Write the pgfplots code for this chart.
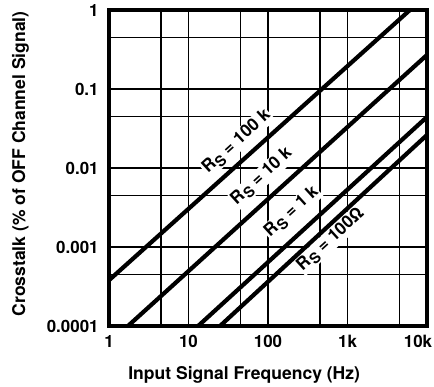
\documentclass[border=0pt]{standalone}
\usepackage{fontspec}
\setmainfont{TeX Gyre Heros}
\usepackage{pgfplots}
\pgfplotsset{compat=1.18}
\usetikzlibrary{calc}

% R with subscript S, as in the curve labels
\newcommand{\Rs}{R\hspace{0.4pt}\raisebox{-0.45ex}{\fontsize{7.4}{8}\selectfont\bfseries S}}
\tikzset{rslabel/.style={rotate=42.4, fill=white, inner sep=0.5bp,
  font=\bfseries\fontsize{8.6}{10}\selectfont}}

\begin{document}
\begin{tikzpicture}
\begin{axis}[
  name=ax,
  xmode=log, ymode=log,
  scale only axis,
  width=159bp, height=158bp,
  xmin=1, xmax=10000,
  ymin=0.0001, ymax=1,
  xtick={1,10,100,1000,10000},
  xticklabels={1,10,100,1k,{10k\hspace*{9bp}}},
  ytick={0.0001,0.001,0.01,0.1,1},
  yticklabels={0.0001,0.001,0.01,0.1,1},
  minor xtick={4.5,45,450,4500},
  minor ytick={0.00045,0.0045,0.045,0.45},
  grid=both,
  major grid style={black, line width=0.7bp},
  minor grid style={black, line width=0.7bp},
  major tick length=0pt, minor tick length=0pt,
  axis line style={black, line width=1.6bp},
  tick label style={font=\bfseries\fontsize{8.5}{10}\selectfont, inner sep=0pt},
  xticklabel style={yshift=-4.5bp},
  yticklabel style={xshift=-5bp},
  xlabel={Input Signal Frequency (Hz)},
  ylabel={Crosstalk (\% of OFF Channel Signal)},
  label style={font=\bfseries\fontsize{8.8}{10}\selectfont, inner sep=0pt},
  xlabel style={at={(axis description cs:0.425,-0.127)}, anchor=north},
  ylabel style={at={(axis description cs:-0.278,0.513)}, anchor=center},
]
% curve labels first, so the lines are drawn over their white boxes
\node[rslabel] at (axis cs:40.7,0.0213) {\Rs\ = 100 k};
\node[rslabel] at (axis cs:84,0.00769) {\Rs\ = 10 k};
\node[rslabel] at (axis cs:200,0.00277) {\Rs\ = 1 k};
\node[rslabel] at (axis cs:620,0.00123) {\Rs\ = 100Ω};

\addplot[black, line width=2.1bp] coordinates {(1,0.00038) (6100,1)};
\addplot[black, line width=2.1bp] coordinates {(1.73,0.0001) (10000,0.27)};
\addplot[black, line width=2.1bp] coordinates {(13.2,0.0001) (10000,0.0443)};
\addplot[black, line width=2.1bp] coordinates {(24.9,0.0001) (10000,0.0262)};
\end{axis}
\pgfresetboundingbox
\path[use as bounding box] ($(ax.south west)+(-54.5bp,-30bp)$) rectangle ($(ax.north east)+(3.5bp,5bp)$);
\end{tikzpicture}
\end{document}
